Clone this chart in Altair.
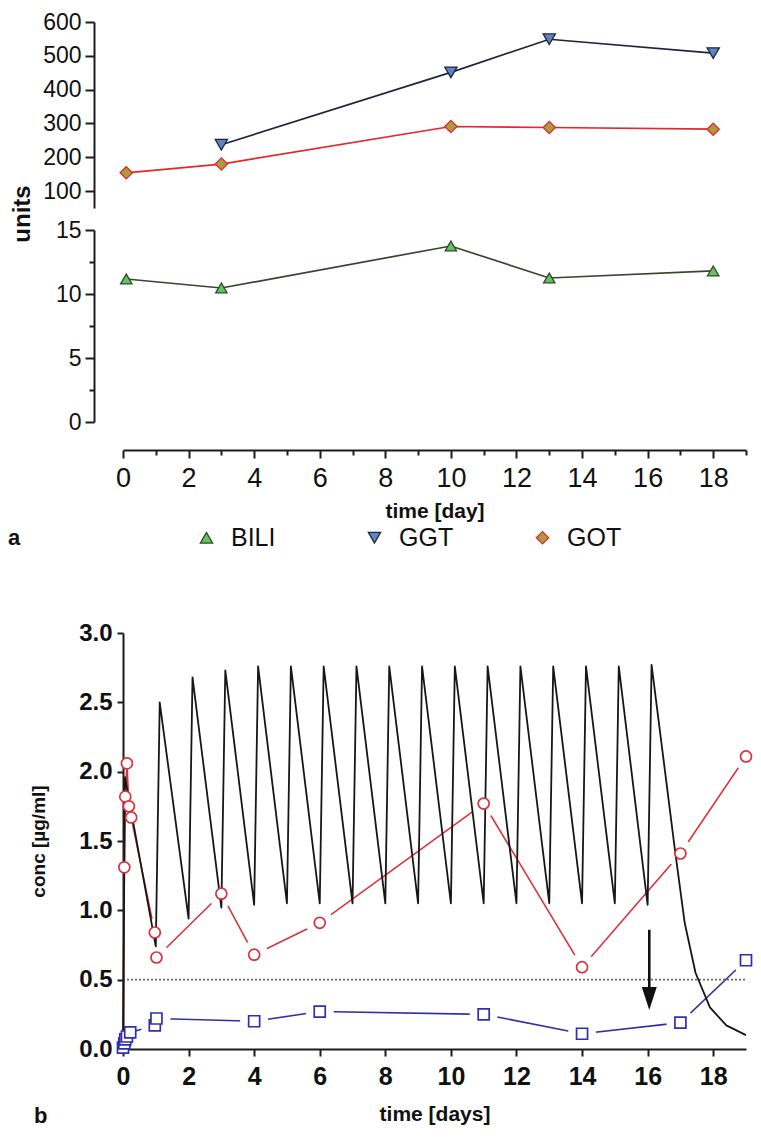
import altair as alt
import pandas as pd

FONT = "Liberation Sans"
AXIS_COLOR = "#1c1c1c"

# ---------------- panel a : liver values ----------------
a_series = ["BILI", "GGT", "GOT"]
bili_day = [0.1, 3, 10, 13, 18]
bili_val = [11.17, 10.47, 13.75, 11.25, 11.8]
ggt_day = [3, 10, 13, 18]
ggt_val = [237, 451, 549, 508]
got_day = [0.1, 3, 10, 13, 18]
got_val = [154, 180, 291, 288, 283]

a_line_colors = ["#34482c", "#222240", "#e2282d"]
a_fill_colors = ["#5fc65f", "#5b88c0", "#aa9d3f"]
a_shapes = ["triangle-up", "triangle-down", "diamond"]

a_upper_ticks = [100, 200, 300, 400, 500, 600]
a_lower_ticks = [0, 2.5, 5, 7.5, 10, 12.5, 15]
day_ticks = list(range(0, 20))

# ---------------- panel b : concentrations ----------------
sim_day = [0, 0.06, 1.0, 1.12, 2.0, 2.12, 3.0, 3.12, 4.0, 4.12,
           5.0, 5.12, 6.0, 6.12, 7.0, 7.12, 8.0, 8.12, 9.0, 9.12,
           10.0, 10.12, 11.0, 11.12, 12.0, 12.12, 13.0, 13.12, 14.0, 14.12,
           15.0, 15.12, 16.0, 16.12, 16.82, 17.13, 17.46, 17.9, 18.4, 19.0]
sim_conc = [0, 1.96, 0.74, 2.50, 0.94, 2.68, 1.02, 2.73, 1.04, 2.76,
            1.05, 2.76, 1.05, 2.76, 1.05, 2.76, 1.05, 2.76, 1.05, 2.76,
            1.05, 2.76, 1.05, 2.76, 1.05, 2.76, 1.05, 2.76, 1.05, 2.76,
            1.05, 2.76, 1.04, 2.77, 1.46, 0.91, 0.55, 0.30, 0.17, 0.10]

red_day = [0, 0.04, 0.07, 0.12, 0.18, 0.25, 0.97, 1.02, 3, 4, 6, 11, 14, 17, 19]
red_conc = [0, 1.31, 1.82, 2.06, 1.75, 1.67, 0.84, 0.66, 1.12, 0.68, 0.91, 1.77, 0.59, 1.41, 2.11]

blue_day = [0, 0.04, 0.07, 0.12, 0.22, 0.97, 1.02, 4, 6, 11, 14, 17, 19]
blue_conc = [0.01, 0.04, 0.07, 0.09, 0.12, 0.17, 0.22, 0.20, 0.27, 0.25, 0.11, 0.19, 0.64]

conc_ticks = [0, 0.5, 1.0, 1.5, 2.0, 2.5, 3.0]
threshold = [0.5]
arrow_day = [16.05]
arrow_top = [0.86]
arrow_bottom = [0.40]
arrow_head = [0.365]

RED = "#d8333b"
BLUE = "#2f2fae"

# ---------------- data frames ----------------
upper_df = pd.DataFrame({
    "day": ggt_day + got_day,
    "value": ggt_val + got_val,
    "series": ["GGT"] * len(ggt_day) + ["GOT"] * len(got_day),
})
lower_df = pd.DataFrame({"day": bili_day, "value": bili_val, "series": ["BILI"] * len(bili_day)})
sim_df = pd.DataFrame({"day": sim_day, "conc": sim_conc})
red_df = pd.DataFrame({"day": red_day, "conc": red_conc})
blue_df = pd.DataFrame({"day": blue_day, "conc": blue_conc})
red_marks = red_df[red_df["conc"] > 0]
red_halo_df = red_df[red_df["day"] >= 0.9]
blue_halo_df = blue_df[blue_df["day"] >= 0.9]
thr_df = pd.DataFrame({"level": threshold, "x0": [0], "x1": [19]})
arrow_df = pd.DataFrame({"day": arrow_day, "top": arrow_top, "bottom": arrow_bottom, "head": arrow_head})

W = 623
stroke_scale = alt.Scale(domain=a_series, range=a_line_colors)
fill_scale = alt.Scale(domain=a_series, range=a_fill_colors)
shape_scale = alt.Scale(domain=a_series, range=a_shapes)
xa_scale = alt.Scale(domain=[0, 19], nice=False, zero=False)

common_axis = dict(grid=False, domainColor=AXIS_COLOR, tickColor=AXIS_COLOR, domainWidth=2,
                   tickWidth=2, labelColor="#111", labelFont=FONT, titleFont=FONT, titleColor="#111")

# ---------------- panel a upper (GGT, GOT) ----------------
ya_up = alt.Y("value:Q", scale=alt.Scale(domain=[50, 600], nice=False, zero=False),
              axis=alt.Axis(values=a_upper_ticks, title=None, offset=29, tickSize=9,
                            labelPadding=4, labelFontSize=23, **common_axis))
xa_none = alt.X("day:Q", scale=xa_scale, axis=None)
up_base = alt.Chart(upper_df).encode(x=xa_none, y=ya_up)
upper = alt.layer(
    up_base.mark_line(strokeWidth=1.7).encode(
        stroke=alt.Stroke("series:N", scale=stroke_scale, legend=None)),
    up_base.mark_point(filled=True, size=150, strokeWidth=1.3, opacity=1).encode(
        shape=alt.Shape("series:N", scale=shape_scale, legend=None),
        fill=alt.Fill("series:N", scale=fill_scale, legend=None),
        stroke=alt.Stroke("series:N", scale=stroke_scale, legend=None)),
).properties(width=W, height=186)

# ---------------- panel a lower (BILI) ----------------
legend_a = alt.Legend(orient="none", legendX=71, legendY=295, direction="horizontal", title=None,
                      labelFontSize=25, labelFont=FONT, labelColor="#111", symbolSize=150,
                      symbolStrokeWidth=1.3, symbolOpacity=1, columnPadding=76, labelOffset=12,
                      gridAlign="all", padding=0)
xa_low = alt.X("day:Q", scale=xa_scale,
               axis=alt.Axis(values=day_ticks, offset=28, labelFlush=False,
                             labelExpr="datum.value % 2 == 0 ? datum.label : ''",
                             tickSize={"condition": {"test": "datum.value % 2 == 0", "value": 8}, "value": 5},
                             labelFontSize=27, labelPadding=7, title="time [day]", titleFontSize=21,
                             titleFontWeight="bold", titlePadding=9, **common_axis))
ya_low = alt.Y("value:Q", scale=alt.Scale(domain=[0, 15], nice=False, zero=False),
               axis=alt.Axis(values=a_lower_ticks, title=None, offset=29,
                             labelExpr="datum.value % 5 == 0 ? format(datum.value, 'd') : ''",
                             tickSize={"condition": {"test": "datum.value % 5 == 0", "value": 9}, "value": 5},
                             labelPadding=4, labelFontSize=23, **common_axis))
low_base = alt.Chart(lower_df).encode(x=xa_low, y=ya_low)
label_a = alt.Chart(pd.DataFrame({"t": ["a"]})).mark_text(
    align="left", baseline="middle", fontSize=22, fontWeight="bold", font=FONT, color="#111"
).encode(text="t:N", x=alt.value(-115), y=alt.value(308))
units = alt.Chart(pd.DataFrame({"t": ["units"]})).mark_text(
    align="center", baseline="middle", angle=270, fontSize=24, fontWeight="bold", font=FONT, color="#111"
).encode(text="t:N", x=alt.value(-100), y=alt.value(-16))
lower = alt.layer(
    low_base.mark_line(strokeWidth=1.7, color=a_line_colors[0]),
    low_base.mark_point(filled=True, size=130, strokeWidth=1.3, opacity=1).encode(
        shape=alt.Shape("series:N", scale=shape_scale, legend=legend_a),
        fill=alt.Fill("series:N", scale=fill_scale, legend=legend_a),
        stroke=alt.Stroke("series:N", scale=stroke_scale, legend=legend_a)),
    label_a,
    units,
).properties(width=W, height=192)

spacer = alt.Chart(pd.DataFrame({"k": [""]})).mark_text().encode(text="k:N").properties(width=W, height=167)

# ---------------- panel b ----------------
xb_scale = alt.Scale(domain=[0, 19], nice=False, zero=False)
yb_scale = alt.Scale(domain=[0, 3], nice=False, zero=False)
xb = alt.X("day:Q", scale=xb_scale,
           axis=alt.Axis(values=day_ticks, labelFlush=False,
                         labelExpr="datum.value % 2 == 0 ? datum.label : ''",
                         tickSize={"condition": {"test": "datum.value % 2 == 0", "value": 7}, "value": 5},
                         labelFontSize=25, labelFontWeight="bold", labelPadding=8,
                         title="time [days]", titleFontSize=21, titleFontWeight="bold", titlePadding=14,
                         **common_axis))
yb = alt.Y("conc:Q", scale=yb_scale,
           axis=alt.Axis(values=conc_ticks, format=".1f", tickSize=6, labelPadding=5, labelFontSize=24,
                         labelFontWeight="bold", title="conc [µg/ml]", titleFontSize=19,
                         titleFontWeight="bold", titlePadding=30, **common_axis))

red_line = alt.Chart(red_df).mark_line(color=RED, strokeWidth=1.6).encode(x=xb, y=yb)
blue_line = alt.Chart(blue_df).mark_line(color=BLUE, strokeWidth=1.6).encode(x=xb, y=yb)
red_halo = alt.Chart(red_halo_df).mark_circle(size=784, color="white", opacity=1).encode(x=xb, y=yb)
blue_halo = alt.Chart(blue_halo_df).mark_circle(size=784, color="white", opacity=1).encode(x=xb, y=yb)
thr = alt.Chart(thr_df).mark_rule(color="#666", strokeDash=[2, 2], strokeWidth=1.6).encode(
    x=alt.X("x0:Q", scale=xb_scale), x2="x1:Q", y=alt.Y("level:Q", scale=yb_scale))
sim = alt.Chart(sim_df).mark_line(color="#161616", strokeWidth=1.8, strokeJoin="round").encode(x=xb, y=yb)
arrow_shaft = alt.Chart(arrow_df).mark_rule(color="#111", strokeWidth=2.6).encode(
    x=alt.X("day:Q", scale=xb_scale), y=alt.Y("top:Q", scale=yb_scale), y2="bottom:Q")
arrow_tip = alt.Chart(arrow_df).mark_point(
    shape="M-0.65,-1L0.65,-1L0,1Z", size=529, filled=True, fill="#111", strokeWidth=0, opacity=1
).encode(x=alt.X("day:Q", scale=xb_scale), y=alt.Y("head:Q", scale=yb_scale))
red_pts = alt.Chart(red_marks).mark_point(
    shape="circle", size=121, filled=True, fill="white", stroke=RED, strokeWidth=1.7, opacity=1
).encode(x=xb, y=yb)
blue_pts = alt.Chart(blue_df).mark_point(
    shape="square", size=121, filled=True, fill="white", stroke=BLUE, strokeWidth=1.7, opacity=1
).encode(x=xb, y=yb)
label_b = alt.Chart(pd.DataFrame({"t": ["b"]})).mark_text(
    align="left", baseline="alphabetic", fontSize=22, fontWeight="bold", font=FONT, color="#111"
).encode(text="t:N", x=alt.value(-89), y=alt.value(490))

bottom = alt.layer(
    red_line, blue_line, red_halo, blue_halo, thr, sim, arrow_shaft, arrow_tip, red_pts, blue_pts, label_b
).properties(width=W, height=416)

chart = alt.vconcat(upper, lower, spacer, bottom, spacing=22, bounds="flush").resolve_scale(
    x="independent", y="independent"
).resolve_legend(
    shape="independent", fill="independent", stroke="independent"
).properties(
    padding={"top": 3, "left": 0, "right": -7, "bottom": 0}
).configure(font=FONT).configure_view(stroke=None)

chart.save("out.html", embed_options={"renderer": "svg", "actions": False})
